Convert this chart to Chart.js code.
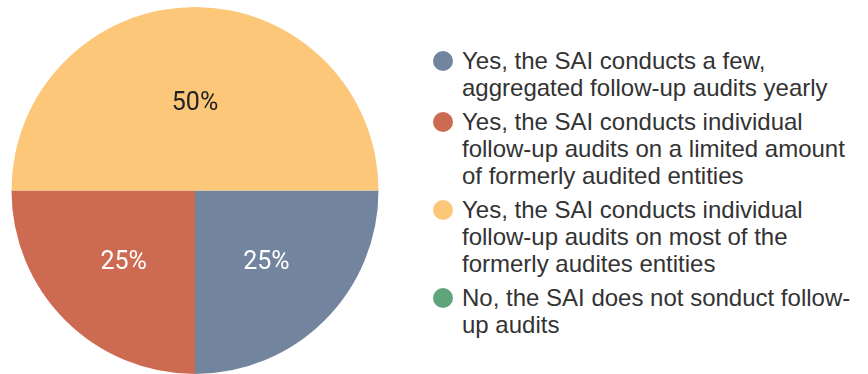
<!DOCTYPE html>
<html>
<head>
<meta charset="utf-8">
<script src="https://cdn.jsdelivr.net/npm/chart.js@4/dist/chart.umd.min.js"></script>
<style>
  html, body { margin: 0; padding: 0; background: #fff; }
  #wrap { position: relative; width: 868px; height: 374px; overflow: hidden; }
  #pie-box { position: absolute; left: 0; top: 0; width: 390px; height: 374px; }
  #legend { position: absolute; left: 433px; top: 47px; margin: 0; padding: 0; list-style: none;
    font-family: "Liberation Sans", Arial, sans-serif; font-size: 24px; line-height: 27px; color: #333; }
  #legend li { position: relative; padding-left: 29px; margin-bottom: 7px; white-space: nowrap; }
  #legend .dot { position: absolute; left: 0; top: 4px; width: 20px; height: 20px; border-radius: 50%; }
</style>
</head>
<body>
<div id="wrap">
  <div id="pie-box"><canvas id="pie"></canvas></div>
  <ul id="legend"></ul>
</div>
<script>
  const categories = [
    ["Yes, the SAI conducts a few,", "aggregated follow-up audits yearly"],
    ["Yes, the SAI conducts individual", "follow-up audits on a limited amount", "of formerly audited entities"],
    ["Yes, the SAI conducts individual", "follow-up audits on most of the", "formerly audites entities"],
    ["No, the SAI does not sonduct follow-", "up audits"],
  ];
  const shares = [25, 25, 50, 0];
  const colors = ["#73859e", "#cc6a52", "#fdc77a", "#5fa57c"];
  const labelColors = ["#ffffff", "#ffffff", "#222222", "#ffffff"];

  // legend on the right, one item per category
  const legend = document.getElementById("legend");
  categories.forEach((lines, i) => {
    const li = document.createElement("li");
    const dot = document.createElement("span");
    dot.className = "dot";
    dot.style.background = colors[i];
    li.appendChild(dot);
    lines.forEach((t, j) => {
      if (j > 0) li.appendChild(document.createElement("br"));
      li.appendChild(document.createTextNode(t));
    });
    legend.appendChild(li);
  });

  // percent text inside each slice
  const sliceLabels = {
    id: "sliceLabels",
    afterDatasetsDraw(chart) {
      const ctx = chart.ctx;
      const meta = chart.getDatasetMeta(0);
      ctx.save();
      ctx.font = "25px Roboto, 'Liberation Sans', sans-serif";
      ctx.textAlign = "center";
      ctx.textBaseline = "middle";
      meta.data.forEach((arc, i) => {
        const v = shares[i];
        if (!v) return;
        const p = arc.getProps(["x", "y", "startAngle", "endAngle", "outerRadius"], true);
        const mid = (p.startAngle + p.endAngle) / 2;
        const r = p.outerRadius * (v >= 50 ? 0.48 : 0.55);
        ctx.fillStyle = labelColors[i];
        ctx.fillText(v + "%", p.x + Math.cos(mid) * r, p.y + Math.sin(mid) * r + 1);
      });
      ctx.restore();
    },
  };

  new Chart(document.getElementById("pie"), {
    type: "pie",
    data: {
      labels: categories.map((l) => l.join(" ")),
      datasets: [{
        data: shares,
        backgroundColor: colors,
        borderWidth: 0,
      }],
    },
    options: {
      responsive: true,
      maintainAspectRatio: false,
      animation: false,
      rotation: 90,
      layout: { padding: { left: 11, right: 11, top: 7, bottom: 0 } },
      plugins: {
        legend: { display: false },
        tooltip: { enabled: false },
      },
    },
    plugins: [sliceLabels],
  });
</script>
</body>
</html>
